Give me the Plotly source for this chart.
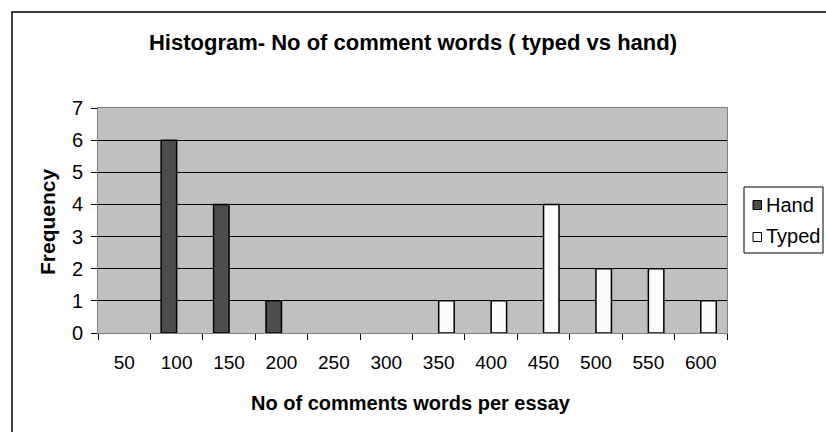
import plotly.graph_objects as go

categories = ["50", "100", "150", "200", "250", "300", "350", "400", "450", "500", "550", "600"]
hand = [0, 6, 4, 1, 0, 0, 0, 0, 0, 0, 0, 0]
typed = [0, 0, 0, 0, 0, 0, 1, 1, 4, 2, 2, 1]
series_names = ["Hand", "Typed"]
y_ticks = [0, 1, 2, 3, 4, 5, 6, 7]

W, H = 826, 432
L, R, T, B = 98, 727, 108, 333

def px(x):
    return (x - L) / (R - L)

def py(y):
    return (B - y) / (B - T)

def nz(vals):
    # empty bins are not drawn at all (no outline at zero)
    return [v if v else None for v in vals]

FONT = "Liberation Sans, Arial, sans-serif"
COLORS = ["#4D4D4D", "#FCFCFC"]

fig = go.Figure()
for name, vals, col in zip(series_names, [hand, typed], COLORS):
    fig.add_trace(go.Bar(x=categories, y=nz(vals), name=name,
                         marker=dict(color=col, line=dict(color="black", width=1.5))))

fig.update_layout(
    width=W, height=H,
    margin=dict(l=L, r=W - R, t=T, b=H - B, pad=0, autoexpand=False),
    paper_bgcolor="white",
    plot_bgcolor="#C0C0C0",
    barmode="group", bargap=0.41, bargroupgap=0,
    font=dict(family=FONT, size=19, color="black"),
    title=dict(text="<b>Histogram- No of comment words ( typed vs hand)</b>",
               x=0.5, xref="container", xanchor="center",
               y=1 - 42 / H, yref="container", yanchor="middle",
               font=dict(family=FONT, size=22, color="black")),
    showlegend=False,
)

fig.update_xaxes(
    type="category", tickson="boundaries", ticks="outside", ticklen=6,
    tickcolor="black", showline=True, linecolor="#808080", linewidth=1, mirror=True,
    showgrid=False, tickfont=dict(size=19), ticklabelstandoff=12,
)
fig.update_yaxes(
    range=[0, 7], tickvals=y_ticks, ticks="outside", ticklen=6, tickcolor="black",
    showline=True, linecolor="#808080", linewidth=1, mirror=True,
    showgrid=True, gridcolor="black", gridwidth=1, zeroline=False,
    tickfont=dict(size=20), ticklabelstandoff=4,
)

fig.add_annotation(text="<b>No of comments words per essay</b>", xref="paper", yref="paper",
                   x=px(411), y=py(403), xanchor="center", yanchor="middle",
                   showarrow=False, font=dict(family=FONT, size=20))
fig.add_annotation(text="<b>Frequency</b>", xref="paper", yref="paper",
                   x=px(47), y=py(222), xanchor="center", yanchor="middle",
                   textangle=-90, showarrow=False, font=dict(family=FONT, size=21))

# chart area border (cropped at right and bottom)
fig.add_shape(type="rect", xref="paper", yref="paper",
              x0=px(12), y0=py(460), x1=px(860), y1=py(12),
              line=dict(color="black", width=1.5), fillcolor="rgba(0,0,0,0)", layer="below")

# legend box
fig.add_shape(type="rect", xref="paper", yref="paper",
              x0=px(744), y0=py(253), x1=px(823), y1=py(187),
              line=dict(color="black", width=1), fillcolor="white")
for i, (name, col) in enumerate(zip(series_names, COLORS)):
    yc = 205 + i * 30.5
    fig.add_shape(type="rect", xref="paper", yref="paper",
                  x0=px(753), x1=px(761.5), y0=py(yc + 4.5 + (1.5 if i else 0)), y1=py(yc - 4.5 + (1.5 if i else 0)),
                  line=dict(color="black", width=1), fillcolor=col)
    fig.add_annotation(text=name, xref="paper", yref="paper",
                       x=px(764), y=py(yc), xanchor="left", yanchor="middle",
                       showarrow=False, font=dict(family=FONT, size=20))

fig.write_html("out.html")
